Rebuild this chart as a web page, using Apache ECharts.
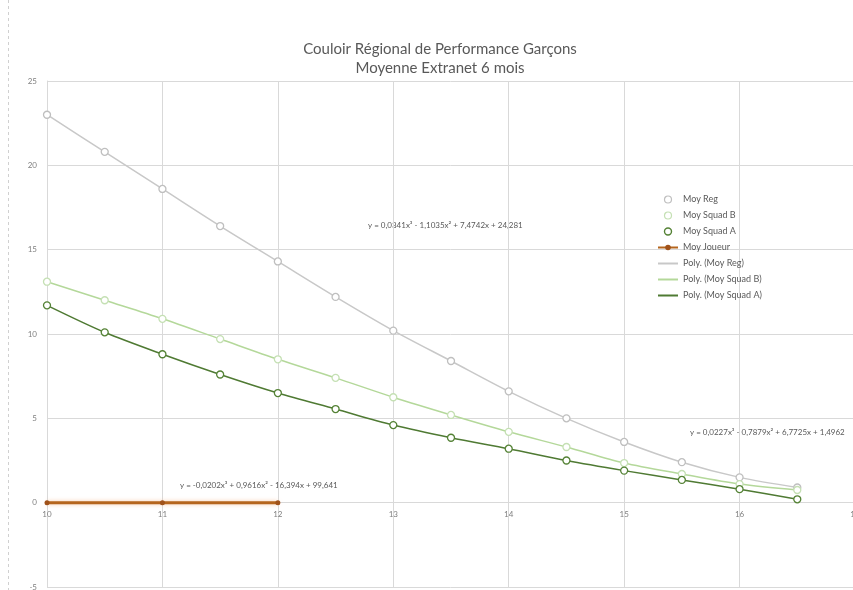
<!DOCTYPE html>
<html>
<head>
<meta charset="utf-8">
<script src="https://cdn.jsdelivr.net/npm/echarts@6/dist/echarts.min.js"></script>
<style>html,body{margin:0;padding:0;background:#fff;}#c{width:853px;height:590px;}</style>
</head>
<body>
<div id="c"></div>
<script>
const titleLines = ['Couloir Régional de Performance Garçons', 'Moyenne Extranet 6 mois'];
const xValues = [10, 10.5, 11, 11.5, 12, 12.5, 13, 13.5, 14, 14.5, 15, 15.5, 16, 16.5];
const moyReg = [23.0, 20.8, 18.6, 16.4, 14.3, 12.2, 10.2, 8.4, 6.6, 5.0, 3.6, 2.4, 1.5, 0.9];
const moySquadB = [13.1, 12.0, 10.9, 9.7, 8.5, 7.4, 6.25, 5.2, 4.2, 3.3, 2.35, 1.7, 1.1, 0.75];
const moySquadA = [11.7, 10.1, 8.8, 7.6, 6.5, 5.55, 4.6, 3.85, 3.2, 2.5, 1.9, 1.35, 0.8, 0.2];
const joueurX = [10, 11, 12];
const moyJoueur = [0, 0, 0];
const equations = [
  'y = 0,0341x³ - 1,1035x² + 7,4742x + 24,281',
  'y = -0,0202x³ + 0,9616x² - 16,394x + 99,641',
  'y = 0,0227x³ - 0,7879x² + 6,7725x + 1,4962'
];
const seriesNames = ['Moy Reg', 'Moy Squad B', 'Moy Squad A', 'Moy Joueur', 'Poly. (Moy Reg)', 'Poly. (Moy Squad B)', 'Poly. (Moy Squad A)'];

const pair = (xs, ys) => xs.map((x, i) => [x, ys[i]]);
const FONT = 'Lato';

const chart = echarts.init(document.getElementById('c'), null, {renderer: 'canvas'});

function markerSeries(name, data, border) {
  return {
    name, type: 'scatter', data, symbol: 'circle', symbolSize: 7, z: 5,
    itemStyle: {color: '#ffffff', borderColor: border, borderWidth: 1.3, opacity: 1},
    emphasis: {disabled: true}
  };
}
function polySeries(name, data, color, width) {
  return {
    name, type: 'line', data, smooth: 0.3, symbol: 'none', z: 3,
    lineStyle: {color, width}, itemStyle: {color},
    emphasis: {disabled: true}
  };
}

chart.setOption({
  animation: false,
  backgroundColor: '#ffffff',
  textStyle: {fontFamily: FONT},
  title: {
    text: titleLines.join('\n'),
    left: 435, top: 35, textAlign: 'center',
    textStyle: {fontFamily: FONT, fontSize: 15, fontWeight: 'normal', color: '#595959', lineHeight: 19}
  },
  legend: {
    orient: 'vertical', left: 652, top: 190, itemWidth: 20, itemHeight: 7, itemGap: 7,
    textStyle: {fontFamily: FONT, fontSize: 9, color: '#595959'},
    data: [
      {name: seriesNames[0], icon: 'circle', itemStyle: {color: '#ffffff', borderColor: '#bfbfbf', borderWidth: 1.2}},
      {name: seriesNames[1], icon: 'circle', itemStyle: {color: '#ffffff', borderColor: '#c5e0b4', borderWidth: 1.2}},
      {name: seriesNames[2], icon: 'circle', itemStyle: {color: '#ffffff', borderColor: '#548235', borderWidth: 1.4}},
      {name: seriesNames[3]},
      {name: seriesNames[4], itemStyle: {opacity: 0}},
      {name: seriesNames[5], itemStyle: {opacity: 0}},
      {name: seriesNames[6], itemStyle: {opacity: 0}}
    ]
  },
  grid: {left: 47, right: -2, top: 81, bottom: 3, containLabel: false, outerBoundsMode: 'none'},
  xAxis: {
    type: 'value', min: 10, max: 17, interval: 1,
    offset: -84.33,
    axisLine: {onZero: false, lineStyle: {color: '#d9d9d9', width: 1}},
    axisTick: {show: false},
    splitLine: {show: true, lineStyle: {color: '#d9d9d9', width: 1}},
    axisLabel: {color: '#7f7f7f', fontSize: 8, margin: 8, showMaxLabel: true}
  },
  yAxis: {
    type: 'value', min: -5, max: 25, interval: 5,
    axisLine: {show: true, onZero: false, lineStyle: {color: '#d9d9d9'}},
    axisTick: {show: false},
    splitLine: {show: true, lineStyle: {color: '#d9d9d9', width: 1}},
    axisLabel: {color: '#7f7f7f', fontSize: 8, margin: 10}
  },
  graphic: [
    {type: 'line', shape: {x1: 8.5, y1: 0, x2: 8.5, y2: 590}, style: {stroke: '#d0d0d0', lineWidth: 1, lineDash: [3, 3]}},
    {type: 'text', left: 368, top: 221, style: {text: equations[0], fontFamily: FONT, fontSize: 8, fill: '#595959'}},
    {type: 'text', left: 180, top: 481, style: {text: equations[1], fontFamily: FONT, fontSize: 8, fill: '#595959'}},
    {type: 'text', left: 690, top: 428, style: {text: equations[2], fontFamily: FONT, fontSize: 8, fill: '#595959'}}
  ],
  series: [
    markerSeries(seriesNames[0], pair(xValues, moyReg), '#bfbfbf'),
    markerSeries(seriesNames[1], pair(xValues, moySquadB), '#c5e0b4'),
    markerSeries(seriesNames[2], pair(xValues, moySquadA), '#548235'),
    {
      name: seriesNames[3], type: 'line', data: pair(joueurX, moyJoueur), symbol: 'circle', symbolSize: 5, z: 6,
      lineStyle: {color: '#b5651d', width: 3, shadowColor: 'rgba(244,177,131,0.7)', shadowBlur: 4},
      itemStyle: {color: '#a0521a'}, emphasis: {disabled: true}
    },
    polySeries(seriesNames[4], pair(xValues, moyReg), '#c8c8c8', 1.5),
    polySeries(seriesNames[5], pair(xValues, moySquadB), '#b4d89a', 1.5),
    polySeries(seriesNames[6], pair(xValues, moySquadA), '#4f7a33', 1.5)
  ]
});
</script>
</body>
</html>
